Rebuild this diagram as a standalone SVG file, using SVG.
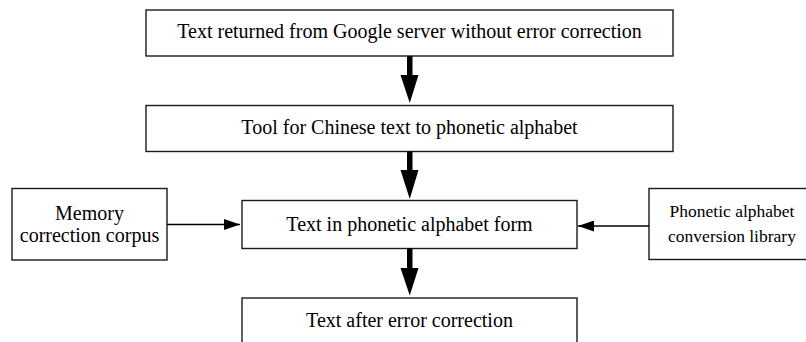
<svg xmlns="http://www.w3.org/2000/svg" width="806" height="342" viewBox="0 0 806 342">
<style>
.box{fill:#fff;stroke:#1a1a1a;stroke-width:1.4}
.t{font-family:"Liberation Serif","Times New Roman",serif;font-size:20px;fill:#000;text-anchor:middle}
.ts{font-family:"Liberation Serif","Times New Roman",serif;font-size:17.5px;fill:#000;text-anchor:middle}
.thin{stroke:#000;stroke-width:1.4;fill:none}
.thick{fill:#000;stroke:none}
</style>
<defs>
<marker id="ah" markerUnits="userSpaceOnUse" markerWidth="17" markerHeight="11" refX="16" refY="5.5" orient="auto">
<path d="M0,0 L16,5.5 L0,11 Z" fill="#000"/>
</marker>
</defs>
<rect width="806" height="342" fill="#fff"/>
<g id="n1"><rect class="box" x="146" y="10" width="527" height="46"/><text class="t" x="409.5" y="37.5">Text returned from Google server without error correction</text></g>
<g id="n2"><rect class="box" x="146" y="105.5" width="527" height="46"/><text class="t" x="409.5" y="133.5">Tool for Chinese text to phonetic alphabet</text></g>
<g id="n3"><rect class="box" x="242" y="200.5" width="335" height="48"/><text class="t" x="409.5" y="231">Text in phonetic alphabet form</text></g>
<g id="n4"><rect class="box" x="242" y="298" width="335" height="60"/><text class="t" x="409.5" y="327">Text after error correction</text></g>
<g id="n5"><rect class="box" x="12" y="188.5" width="155" height="71.5"/><text class="t" x="89.5" y="220">Memory</text><text class="t" x="89.5" y="242">correction corpus</text></g>
<g id="n6"><rect class="box" x="649" y="188.5" width="166" height="71"/><text class="ts" x="732" y="217">Phonetic alphabet</text><text class="ts" x="732" y="241.5">conversion library</text></g>
<g id="connectors">
<polygon class="thick" points="407,56 412.5,56 412.5,75 418.5,75 409.75,103 400.5,75 407,75"/>
<polygon class="thick" points="407,151.5 412.5,151.5 412.5,170 418.5,170 409.75,199 400.5,170 407,170"/>
<polygon class="thick" points="407,248 412.5,248 412.5,268 418.5,268 409.75,295.5 400.5,268 407,268"/>
<line class="thin" x1="167" y1="224.5" x2="240" y2="224.5" marker-end="url(#ah)"/>
<line class="thin" x1="649" y1="226" x2="578" y2="226" marker-end="url(#ah)"/>
</g>
</svg>
